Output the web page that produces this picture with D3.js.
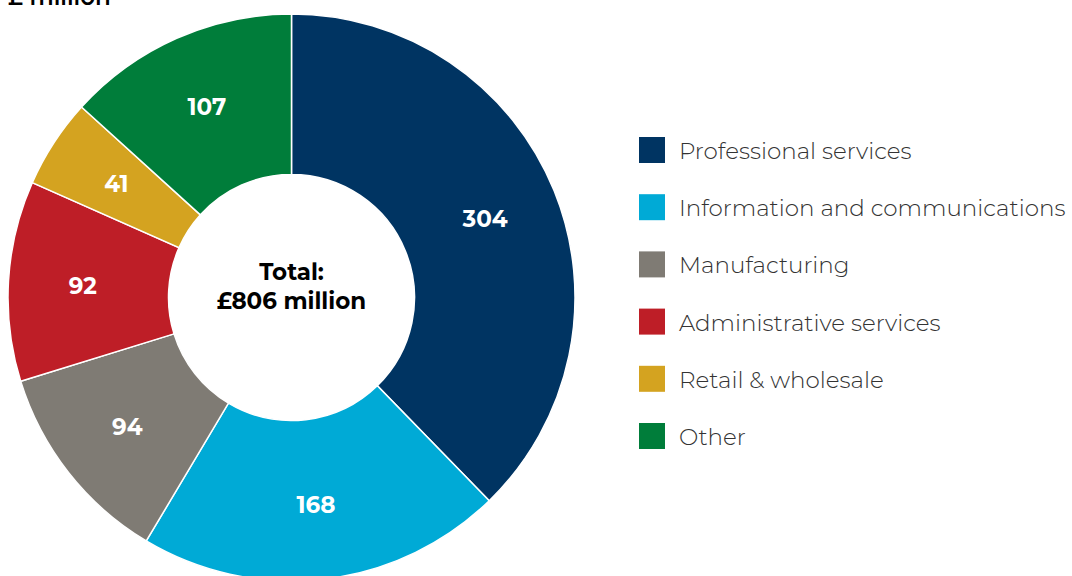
<!DOCTYPE html>
<html><head><meta charset="utf-8">
<script src="https://cdn.jsdelivr.net/npm/d3@7"></script>
<style>body{margin:0;background:#fff;}svg{display:block;font-family:"Montserrat","Lato","Open Sans",sans-serif;}</style>
</head><body>
<svg id="c" width="1072" height="576"></svg>
<script>
const categories = ["Professional services","Information and communications","Manufacturing","Administrative services","Retail & wholesale","Other"];
const values = [304,168,94,92,41,107];
const colors = ["#003462","#00AAD6","#7F7B74","#BE1E27","#D4A320","#007D3A"];
const title = "£ million";
const centerLines = ["Total:","£806 million"];

const svg = d3.select("#c");
const cx = 291.5, cy = 297.5, R = 283.5, r = 123;
const pie = d3.pie().sort(null).value(d=>d)(values);
const arc = d3.arc().innerRadius(r).outerRadius(R);
const labelArc = d3.arc().innerRadius(209).outerRadius(209);
const g = svg.append("g").attr("transform",`translate(${cx},${cy})`);
g.selectAll("path").data(pie).join("path")
  .attr("d",arc).attr("fill",(d,i)=>colors[i])
  .attr("stroke","#fff").attr("stroke-width",1.5);
g.selectAll("text.v").data(pie).join("text").attr("class","v")
  .attr("transform",d=>`translate(${labelArc.centroid(d)})`)
  .attr("text-anchor","middle").attr("dy","0.36em")
  .attr("fill","#fff").attr("font-weight",700).attr("font-size",23)
  .text(d=>d.data);
g.selectAll("text.c").data(centerLines).join("text").attr("class","c")
  .attr("text-anchor","middle").attr("y",(d,i)=>-18+i*29)
  .attr("fill","#000").attr("font-weight",700).attr("font-size",23)
  .text(d=>d);
svg.append("text").attr("x",8).attr("y",5).attr("font-size",23).attr("font-weight",600).attr("fill","#000").text(title);
const lg = svg.append("g");
const rows = lg.selectAll("g").data(categories).join("g")
  .attr("transform",(d,i)=>`translate(639,${137+i*57.2})`);
rows.append("rect").attr("width",26).attr("height",26).attr("fill",(d,i)=>colors[i]);
rows.append("text").attr("x",40).attr("y",22).attr("font-size",23).attr("font-weight",300).attr("fill","#333").text(d=>d);
</script>
</body></html>
